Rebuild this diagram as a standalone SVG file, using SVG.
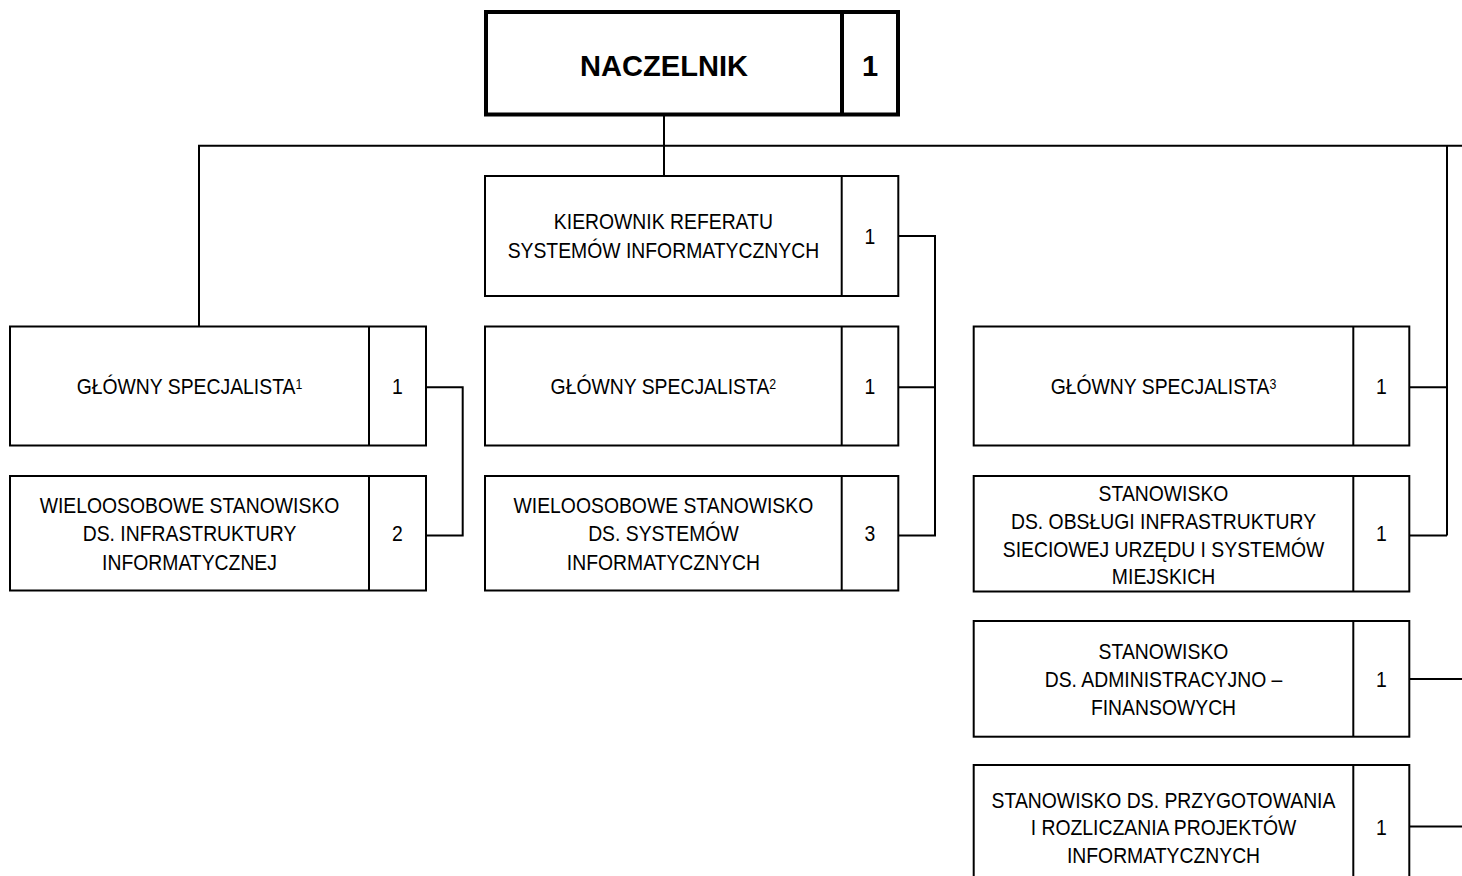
<svg xmlns="http://www.w3.org/2000/svg" width="1462" height="876" viewBox="0 0 1462 876">
<style>
  .box { fill: #fff; stroke: #000; stroke-width: 2; }
  .div { stroke: #000; stroke-width: 2; }
  .top { fill: #fff; stroke: #000; stroke-width: 4; }
  .topdiv { stroke: #000; stroke-width: 4; }
  .conn { fill: none; stroke: #000; stroke-width: 2; }
  text { font-family: "Liberation Sans", Arial, sans-serif; fill: #000; text-anchor: middle; }
  .t { font-size: 22px; transform-box: fill-box; transform-origin: center; transform: scaleX(0.88); }
  .b { font-size: 30px; font-weight: bold; transform-box: fill-box; transform-origin: center; transform: scaleX(0.97); }
  .sup { font-size: 14px; }
</style>
<rect width="1462" height="876" fill="#fff"/>
<g id="connectors">
  <polyline class="conn" points="664,114 664,176"/>
  <polyline class="conn" points="199,326.5 199,145.7 1462,145.7"/>
  <polyline class="conn" points="1447,145.7 1447,535.5"/>
  <polyline class="conn" points="426,387.3 462.7,387.3 462.7,535.5 426,535.5"/>
  <polyline class="conn" points="898.3,236 935,236 935,535.5 898.3,535.5"/>
  <polyline class="conn" points="898.3,387.3 935,387.3"/>
  <polyline class="conn" points="1409.3,387.3 1447,387.3"/>
  <polyline class="conn" points="1409.3,535.5 1447,535.5"/>
  <polyline class="conn" points="1409.3,679 1462,679"/>
  <polyline class="conn" points="1409.3,826.5 1462,826.5"/>
</g>
<g id="naczelnik">
  <rect class="top" x="486" y="12" width="412" height="102.5"/>
  <line class="topdiv" x1="842" y1="12" x2="842" y2="114.5"/>
  <text class="b" x="664" y="76.5">NACZELNIK</text>
  <text class="b" x="870" y="76.5">1</text>
</g>
<g id="kierownik">
  <rect class="box" x="485" y="176" width="413.3" height="120"/>
  <line class="div" x1="841.7" y1="176" x2="841.7" y2="296"/>
  <text class="t" x="663.4" y="229.5">KIEROWNIK REFERATU</text>
  <text class="t" x="663.4" y="257.8">SYSTEMÓW INFORMATYCZNYCH</text>
  <text class="t" x="870" y="244.5">1</text>
</g>
<g id="gs1">
  <rect class="box" x="10" y="326.5" width="416" height="119"/>
  <line class="div" x1="369" y1="326.5" x2="369" y2="445.5"/>
  <text class="t" x="189.5" y="394.5">GŁÓWNY SPECJALISTA<tspan class="sup" dy="-5">1</tspan></text>
  <text class="t" x="397.5" y="394.5">1</text>
</g>
<g id="w1">
  <rect class="box" x="10" y="476" width="416" height="114.5"/>
  <line class="div" x1="369" y1="476" x2="369" y2="590.5"/>
  <text class="t" x="189.5" y="513.2">WIELOOSOBOWE STANOWISKO</text>
  <text class="t" x="189.5" y="541.5">DS. INFRASTRUKTURY</text>
  <text class="t" x="189.5" y="569.8">INFORMATYCZNEJ</text>
  <text class="t" x="397.5" y="541.5">2</text>
</g>
<g id="gs2">
  <rect class="box" x="485" y="326.5" width="413.3" height="119"/>
  <line class="div" x1="841.7" y1="326.5" x2="841.7" y2="445.5"/>
  <text class="t" x="663.4" y="394.5">GŁÓWNY SPECJALISTA<tspan class="sup" dy="-5">2</tspan></text>
  <text class="t" x="870" y="394.5">1</text>
</g>
<g id="w2">
  <rect class="box" x="485" y="476" width="413.3" height="114.5"/>
  <line class="div" x1="841.7" y1="476" x2="841.7" y2="590.5"/>
  <text class="t" x="663.4" y="513.2">WIELOOSOBOWE STANOWISKO</text>
  <text class="t" x="663.4" y="541.5">DS. SYSTEMÓW</text>
  <text class="t" x="663.4" y="569.8">INFORMATYCZNYCH</text>
  <text class="t" x="870" y="541.5">3</text>
</g>
<g id="gs3">
  <rect class="box" x="973.7" y="326.5" width="435.6" height="119"/>
  <line class="div" x1="1353.3" y1="326.5" x2="1353.3" y2="445.5"/>
  <text class="t" x="1163.5" y="394.5">GŁÓWNY SPECJALISTA<tspan class="sup" dy="-5">3</tspan></text>
  <text class="t" x="1381.3" y="394.5">1</text>
</g>
<g id="obslugi">
  <rect class="box" x="973.7" y="476" width="435.6" height="115.5"/>
  <line class="div" x1="1353.3" y1="476" x2="1353.3" y2="591.5"/>
  <text class="t" x="1163.5" y="501">STANOWISKO</text>
  <text class="t" x="1163.5" y="528.8">DS. OBSŁUGI INFRASTRUKTURY</text>
  <text class="t" x="1163.5" y="556.6">SIECIOWEJ URZĘDU I SYSTEMÓW</text>
  <text class="t" x="1163.5" y="584.4">MIEJSKICH</text>
  <text class="t" x="1381.3" y="541.5">1</text>
</g>
<g id="admin">
  <rect class="box" x="973.7" y="621" width="435.6" height="115.7"/>
  <line class="div" x1="1353.3" y1="621" x2="1353.3" y2="736.7"/>
  <text class="t" x="1163.5" y="658.7">STANOWISKO</text>
  <text class="t" x="1163.5" y="687">DS. ADMINISTRACYJNO –</text>
  <text class="t" x="1163.5" y="715.3">FINANSOWYCH</text>
  <text class="t" x="1381.3" y="687">1</text>
</g>
<g id="przygotowania">
  <rect class="box" x="973.7" y="765" width="435.6" height="125"/>
  <line class="div" x1="1353.3" y1="765" x2="1353.3" y2="890"/>
  <text class="t" x="1163.5" y="808">STANOWISKO DS. PRZYGOTOWANIA</text>
  <text class="t" x="1163.5" y="835.5">I ROZLICZANIA PROJEKTÓW</text>
  <text class="t" x="1163.5" y="863">INFORMATYCZNYCH</text>
  <text class="t" x="1381.3" y="835.5">1</text>
</g>
</svg>
